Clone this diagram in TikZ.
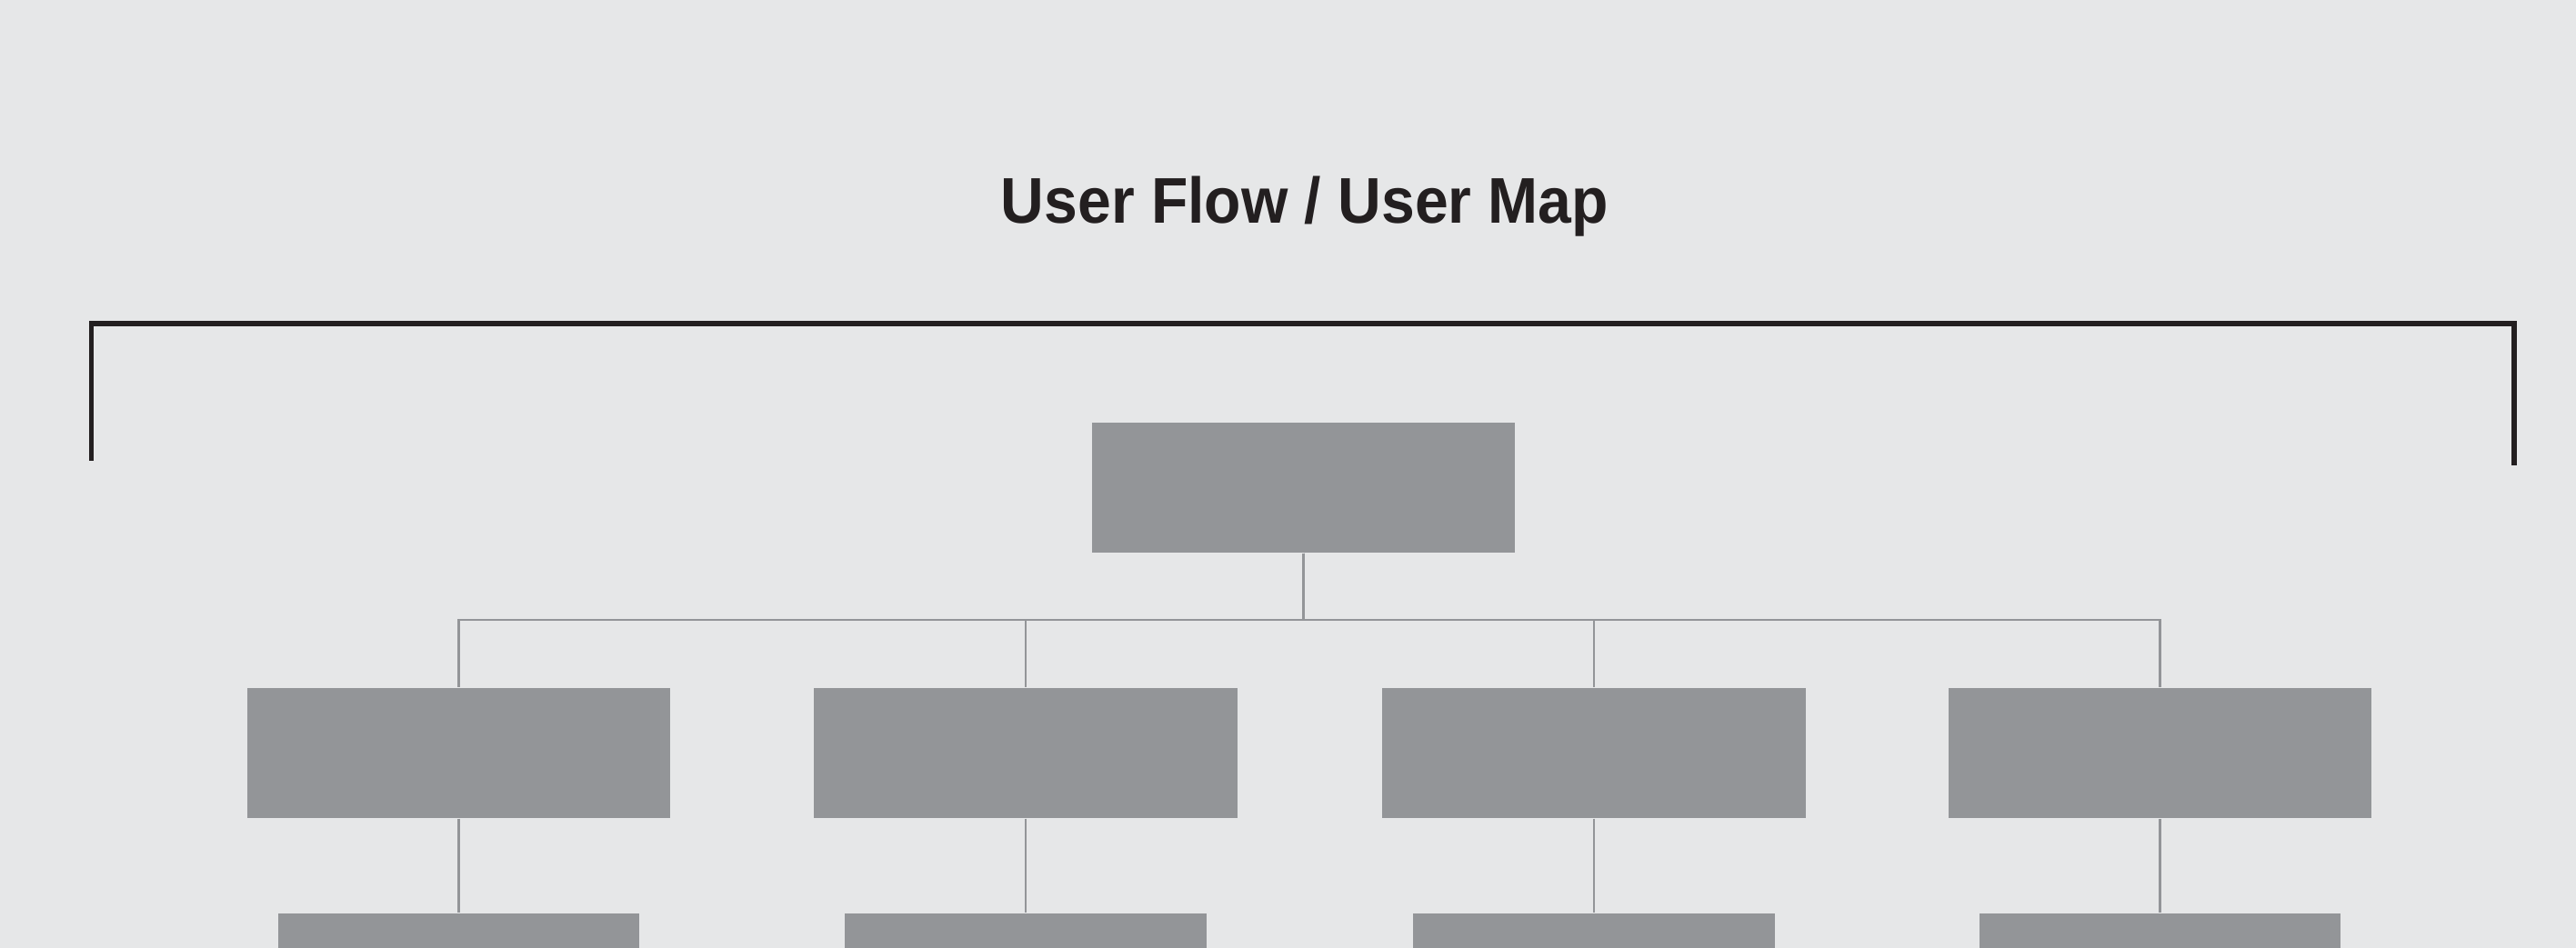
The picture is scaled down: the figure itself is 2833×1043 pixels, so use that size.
\documentclass[tikz,border=0pt]{standalone}
\usepackage{fontspec}
\newfontfamily\titlefont[FakeStretch=0.93]{Liberation Sans}
\definecolor{bgpaper}{HTML}{E6E7E8}
\definecolor{boxgray}{HTML}{939598}
\definecolor{inkdark}{HTML}{231F20}
\tikzset{
  pagebox/.style={fill=boxgray, draw=none, inner sep=0pt, minimum width=4.65cm, minimum height=1.43cm},
  subbox/.style={pagebox, minimum width=3.97cm},
  link/.style={draw=boxgray, line width=0.7pt},
  frame/.style={draw=inkdark, line width=1.45pt, line join=miter}
}
\begin{document}
\begin{tikzpicture}[x=0.01cm, y=-0.01cm]
  % canvas
  \fill[bgpaper] (0,0) rectangle (2833,1043);
  \useasboundingbox (0,0) rectangle (2833,1043);
  \clip (0,0) rectangle (2833,1043);

  % heading
  \node[anchor=base, inner sep=0pt, text=inkdark,
        font=\titlefont\bfseries\fontsize{20.2}{24}\selectfont]
        (title) at (1435,246) {User Flow / User Map};

  % bracket spanning the map
  \draw[frame] (100.5,507) -- (100.5,356) -- (2765,356) -- (2765,512);

  % root page
  \node[pagebox] (root) at (1433.5,536.5) {};

  % second level pages
  \node[pagebox] (p1) at (504.5,828.5) {};
  \node[pagebox] (p2) at (1128,828.5) {};
  \node[pagebox] (p3) at (1753,828.5) {};
  \node[pagebox] (p4) at (2375.5,828.5) {};

  % third level pages
  \node[subbox] (s1) at (504.5,1076.5) {};
  \node[subbox] (s2) at (1128,1076.5) {};
  \node[subbox] (s3) at (1753,1076.5) {};
  \node[subbox] (s4) at (2375.5,1076.5) {};

  % tree connectors
  \foreach \p in {p1,p2,p3,p4}
    \draw[link] (root.south) -- ++(0,73) -| (\p.north);
  \foreach \p/\s in {p1/s1,p2/s2,p3/s3,p4/s4}
    \draw[link] (\p.south) -- (\s.north);
\end{tikzpicture}
\end{document}
